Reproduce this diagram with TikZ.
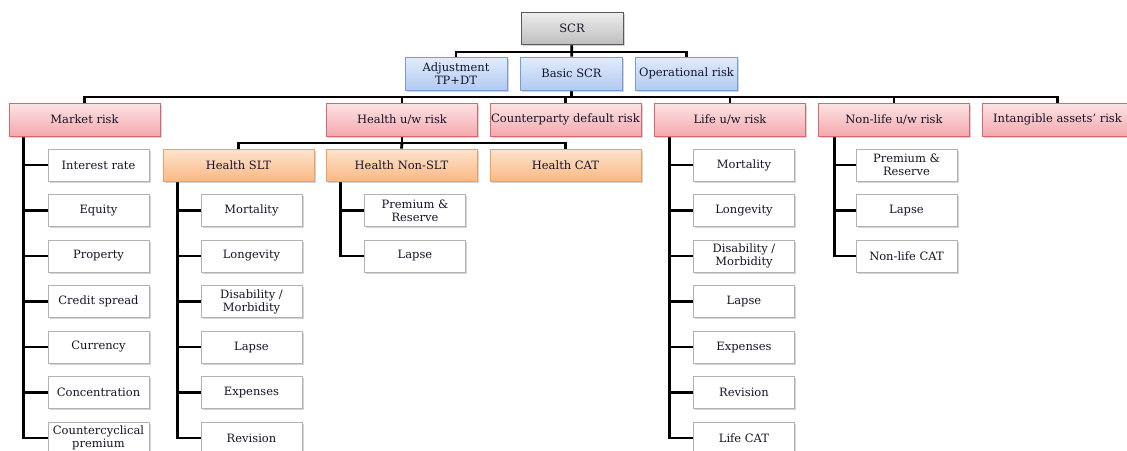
\documentclass[tikz,border=0pt]{standalone}
\usepackage{fontspec}
\setmainfont{DejaVu Serif}
\usetikzlibrary{shadows,calc,backgrounds}
\pgfdeclarelayer{edgelayer}
\pgfdeclarelayer{nodelayer}
\pgfsetlayers{background,edgelayer,nodelayer,main}
\definecolor{greytop}{RGB}{238,238,238}
\definecolor{greybot}{RGB}{190,190,190}
\definecolor{greyline}{RGB}{90,90,90}
\definecolor{bluetop}{RGB}{226,236,252}
\definecolor{bluebot}{RGB}{178,202,242}
\definecolor{blueline}{RGB}{120,156,214}
\definecolor{redtop}{RGB}{253,228,230}
\definecolor{redbot}{RGB}{244,168,172}
\definecolor{redline}{RGB}{212,104,110}
\definecolor{orangetop}{RGB}{254,228,206}
\definecolor{orangebot}{RGB}{250,184,132}
\definecolor{orangeline}{RGB}{240,160,92}
\definecolor{textcol}{RGB}{20,20,40}
\tikzstyle{none}=[inner sep=0mm]
\tikzstyle{box}=[rectangle,align=center,inner sep=1pt,line width=0.8pt,text=textcol,
  font={\fontsize{11.5}{13}\selectfont},
  drop shadow={shadow xshift=1.5pt,shadow yshift=-1.5pt,opacity=0.35}]
\tikzstyle{top box}=[box,top color=greytop,bottom color=greybot,draw=greyline,minimum width=102pt,minimum height=32pt]
\tikzstyle{bn}=[box,top color=bluetop,bottom color=bluebot,draw=blueline,minimum width=102pt,minimum height=33pt]
\tikzstyle{rn}=[box,top color=redtop,bottom color=redbot,draw=redline,minimum width=151pt,minimum height=33pt]
\tikzstyle{on}=[box,top color=orangetop,bottom color=orangebot,draw=orangeline,minimum width=151pt,minimum height=32pt]
\tikzstyle{leaf}=[box,fill=white,draw=black!30,minimum width=101pt,minimum height=32pt]
\tikzstyle{bar}=[line width=2.8pt]

\begin{document}
\begin{tikzpicture}[x=1pt,y=-1pt]
	\useasboundingbox (0,0) rectangle (1127,450);
	\clip (0,0) rectangle (1127,450);
	\begin{pgfonlayer}{nodelayer}
		\node [style=top box] (scr) at (572, 28) {SCR};
		\node [style=bn] (adj) at (456, 73.5) {Adjustment\\TP+DT};
		\node [style=bn] (basic) at (571.5, 73.5) {Basic SCR};
		\node [style=bn] (oper) at (686.5, 73.5) {Operational risk};
		\node [style=rn] (market) at (84.5, 119.5) {Market risk};
		\node [style=rn] (health) at (402, 119.5) {Health u/w risk};
		\node [style=rn] (counter) at (565.5, 119.5) {Counterparty default risk};
		\node [style=rn] (life) at (730, 119.5) {Life u/w risk};
		\node [style=rn] (nonlife) at (894, 119.5) {Non-life u/w risk};
		\node [style=rn] (intang) at (1057.5, 119.5) {Intangible assets' risk};
		\node [style=on] (hslt) at (238.5, 165) {Health SLT};
		\node [style=on] (hnslt) at (401.5, 165) {Health Non-SLT};
		\node [style=on] (hcat) at (565.5, 165) {Health CAT};
		% market risk modules
		\node [style=leaf] (mk1) at (98.5, 165) {Interest rate};
		\node [style=leaf] (mk2) at (98.5, 210.5) {Equity};
		\node [style=leaf] (mk3) at (98.5, 256) {Property};
		\node [style=leaf] (mk4) at (98.5, 301.5) {Credit spread};
		\node [style=leaf] (mk5) at (98.5, 347) {Currency};
		\node [style=leaf] (mk6) at (98.5, 392.5) {Concentration};
		\node [style=leaf] (mk7) at (98.5, 438) {Countercyclical\\premium};
		% health SLT modules
		\node [style=leaf] (hs1) at (251.5, 210.5) {Mortality};
		\node [style=leaf] (hs2) at (251.5, 256) {Longevity};
		\node [style=leaf] (hs3) at (251.5, 301.5) {Disability /\\Morbidity};
		\node [style=leaf] (hs4) at (251.5, 347) {Lapse};
		\node [style=leaf] (hs5) at (251.5, 392.5) {Expenses};
		\node [style=leaf] (hs6) at (251.5, 438) {Revision};
		% health non-SLT modules
		\node [style=leaf] (hn1) at (415, 210.5) {Premium \&\\Reserve};
		\node [style=leaf] (hn2) at (415, 256) {Lapse};
		% life modules
		\node [style=leaf] (lf1) at (744, 165) {Mortality};
		\node [style=leaf] (lf2) at (744, 210.5) {Longevity};
		\node [style=leaf] (lf3) at (744, 256) {Disability /\\Morbidity};
		\node [style=leaf] (lf4) at (744, 301.5) {Lapse};
		\node [style=leaf] (lf5) at (744, 347) {Expenses};
		\node [style=leaf] (lf6) at (744, 392.5) {Revision};
		\node [style=leaf] (lf7) at (744, 438) {Life CAT};
		% non-life modules
		\node [style=leaf] (nl1) at (906.5, 165) {Premium \&\\Reserve};
		\node [style=leaf] (nl2) at (906.5, 210.5) {Lapse};
		\node [style=leaf] (nl3) at (906.5, 256) {Non-life CAT};
		\coordinate (scrbus) at (571.5, 52);
		\coordinate (bscrbus) at (571.5, 97);
		\coordinate (hbus) at (402, 143);
	\end{pgfonlayer}
	\begin{pgfonlayer}{edgelayer}
		\draw[bar] (scr) -- (basic);
		\draw[bar] (adj.north) |- (scrbus) -| (oper.north);
		\draw[bar] (basic) -- (bscrbus);
		\draw[bar] (market.north) |- (bscrbus) -| (intang.north);
		\draw[bar] (health.north) -- (health.north |- bscrbus);
		\draw[bar] (counter.north) -- (counter.north |- bscrbus);
		\draw[bar] (life.north) -- (life.north |- bscrbus);
		\draw[bar] (nonlife.north) -- (nonlife.north |- bscrbus);
		\draw[bar] (health) -- (hbus);
		\draw[bar] (hslt.north) |- (hbus) -| (hcat.north);
		\draw[bar] (hnslt.north) -- (hbus);
		\draw[bar] ([xshift=15pt]market.south west) |- (mk1.west);
		\draw[bar] ([xshift=15pt]market.south west) |- (mk2.west);
		\draw[bar] ([xshift=15pt]market.south west) |- (mk3.west);
		\draw[bar] ([xshift=15pt]market.south west) |- (mk4.west);
		\draw[bar] ([xshift=15pt]market.south west) |- (mk5.west);
		\draw[bar] ([xshift=15pt]market.south west) |- (mk6.west);
		\draw[bar] ([xshift=15pt]market.south west) |- (mk7.west);
		\draw[bar] ([xshift=15pt]hslt.south west) |- (hs1.west);
		\draw[bar] ([xshift=15pt]hslt.south west) |- (hs2.west);
		\draw[bar] ([xshift=15pt]hslt.south west) |- (hs3.west);
		\draw[bar] ([xshift=15pt]hslt.south west) |- (hs4.west);
		\draw[bar] ([xshift=15pt]hslt.south west) |- (hs5.west);
		\draw[bar] ([xshift=15pt]hslt.south west) |- (hs6.west);
		\draw[bar] ([xshift=15pt]hnslt.south west) |- (hn1.west);
		\draw[bar] ([xshift=15pt]hnslt.south west) |- (hn2.west);
		\draw[bar] ([xshift=15pt]life.south west) |- (lf1.west);
		\draw[bar] ([xshift=15pt]life.south west) |- (lf2.west);
		\draw[bar] ([xshift=15pt]life.south west) |- (lf3.west);
		\draw[bar] ([xshift=15pt]life.south west) |- (lf4.west);
		\draw[bar] ([xshift=15pt]life.south west) |- (lf5.west);
		\draw[bar] ([xshift=15pt]life.south west) |- (lf6.west);
		\draw[bar] ([xshift=15pt]life.south west) |- (lf7.west);
		\draw[bar] ([xshift=16pt]nonlife.south west) |- (nl1.west);
		\draw[bar] ([xshift=16pt]nonlife.south west) |- (nl2.west);
		\draw[bar] ([xshift=16pt]nonlife.south west) |- (nl3.west);
	\end{pgfonlayer}
\end{tikzpicture}
\end{document}
